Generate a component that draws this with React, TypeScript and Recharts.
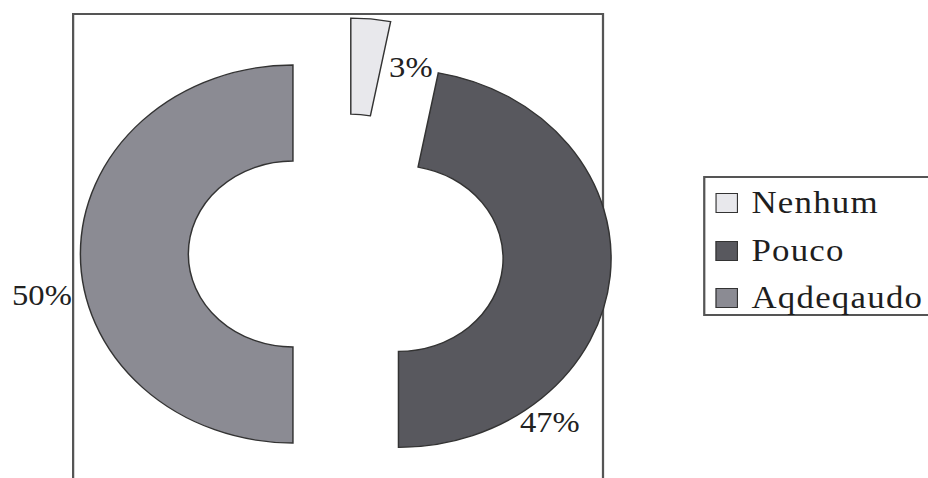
import React from "react";
import { PieChart, Pie, Cell } from "recharts";

// the scan is stretched sideways, so the whole chart is stretched too
const STRETCH = 1.125;
const W = 928 / STRETCH;
const H = 478;

const categories = ["Nenhum", "Pouco", "Aqdeqaudo"];
const shares = [3, 47, 50];
const percentLabels = ["3%", "47%", "50%"];
const colors = ["#e8e8ec", "#58585e", "#8b8b93"];

const data = categories.map((name, i) => ({ name, value: shares[i] }));

const CX = 302.4;
const CY = 249;
const OUTER = 189;
const INNER = 93;
const EXPLODE = 47;

// label placement around each (exploded) slice: angle shift from the slice middle, distance
const LABEL_SHIFT = [18, 45, -12];
const LABEL_DIST = [147, 219, 223];

const FONT = "'Liberation Serif', 'Times New Roman', serif";

const total = shares.reduce((a, b) => a + b, 0);
const rad = (deg: number) => (deg * Math.PI) / 180;

// middle of every slice, degrees clockwise from 12 o'clock
const mids: number[] = [];
{
  let acc = 0;
  shares.forEach((v) => {
    mids.push(((acc + v / 2) / total) * 360);
    acc += v;
  });
}

function Slice(i: number) {
  const m = mids[i];
  const pcx = CX + EXPLODE * Math.sin(rad(m));
  const pcy = CY - EXPLODE * Math.cos(rad(m));

  const renderLabel = (props: any) => {
    if (props.index !== i) return null;
    const a = rad(m + LABEL_SHIFT[i]);
    const x = pcx + LABEL_DIST[i] * Math.sin(a);
    const y = pcy - LABEL_DIST[i] * Math.cos(a);
    return (
      <text
        x={x}
        y={y}
        textAnchor="middle"
        dominantBaseline="central"
        fontFamily={FONT}
        fontSize={29}
        fill="#222"
      >
        {percentLabels[i]}
      </text>
    );
  };

  return (
    <Pie
      key={`slice-${i}`}
      data={data}
      dataKey="value"
      nameKey="name"
      cx={pcx}
      cy={pcy}
      innerRadius={INNER}
      outerRadius={OUTER}
      startAngle={90}
      endAngle={-270}
      isAnimationActive={false}
      label={renderLabel}
      labelLine={false}
    >
      {data.map((entry, idx) => (
        <Cell
          key={`cell-${idx}`}
          fill={idx === i ? colors[idx] : "none"}
          stroke={idx === i ? "#333" : "none"}
          strokeWidth={1.3}
        />
      ))}
    </Pie>
  );
}

export default function App() {
  return (
    <div
      style={{
        position: "absolute",
        left: 0,
        top: 0,
        width: 928,
        height: H,
        overflow: "hidden",
        background: "#fff",
      }}
    >
      <div
        style={{
          position: "relative",
          width: W,
          height: H,
          transform: `scaleX(${STRETCH})`,
          transformOrigin: "0 0",
        }}
      >
        {/* plot area frame */}
        <div
          style={{
            position: "absolute",
            left: 64.4,
            top: 13,
            width: 536.9 - 64.4,
            height: 520,
            border: "2px solid #555",
            boxSizing: "border-box",
          }}
        />
        <div style={{ position: "absolute", left: 0, top: 0 }}>
          <PieChart width={W} height={H}>
            {categories.map((_, i) => Slice(i))}
          </PieChart>
        </div>
        {/* legend */}
        <div
          style={{
            position: "absolute",
            left: 624.9,
            top: 176,
            width: 240,
            height: 140,
            border: "2px solid #555",
            boxSizing: "border-box",
            fontFamily: FONT,
            fontSize: 31,
            letterSpacing: 1.1,
            color: "#1e1e1e",
          }}
        >
          {categories.map((c, i) => (
            <div
              key={c}
              style={{
                position: "absolute",
                left: 9,
                top: 13 + i * 47.5,
                height: 24,
                display: "flex",
                alignItems: "center",
                whiteSpace: "nowrap",
              }}
            >
              <span
                style={{
                  display: "inline-block",
                  width: 20,
                  height: 20,
                  background: colors[i],
                  border: "1.5px solid #333",
                  boxSizing: "border-box",
                  marginRight: 12,
                }}
              />
              <span style={{ lineHeight: "24px" }}>{c}</span>
            </div>
          ))}
        </div>
      </div>
    </div>
  );
}
